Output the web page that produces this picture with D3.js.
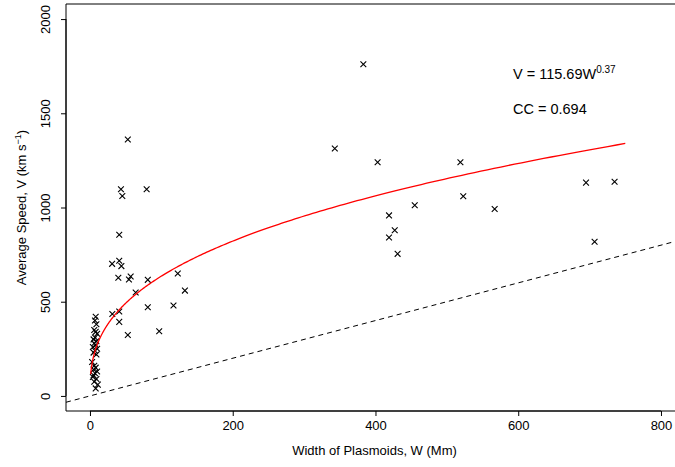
<!DOCTYPE html>
<html>
<head>
<meta charset="utf-8">
<script src="https://cdn.jsdelivr.net/npm/d3@7"></script>
<style>
  html, body { margin: 0; padding: 0; background: #fff; }
  svg text { font-family: "Liberation Sans", Arial, sans-serif; fill: #000; }
</style>
</head>
<body>
<svg id="chart" width="675" height="467"></svg>
<script>
// Plasmoid widths (Mm) and average speeds (km/s)
const widthW = [
  383, 343, 403, 519, 695, 735, 523, 455, 567, 419, 427, 419, 431, 707,
  53, 43.4, 45.3, 79.4, 41, 31, 41, 44, 39.7, 57, 54.6, 81, 123, 64, 133,
  31.3, 41, 81, 117, 41, 97, 53,
  8, 7, 9, 6, 8, 10, 7, 5, 9, 6, 8, 4, 10, 7, 5, 9, 3, 6, 8, 5, 10, 7, 4, 9, 6, 11, 8, 5
];
const speedV = [
  1760, 1313, 1240, 1240, 1132, 1137, 1060, 1012, 992, 958, 879, 841, 754, 818,
  1361, 1097, 1061, 1097, 855, 701, 717, 689, 627, 634, 618, 616, 650, 549, 559,
  435, 448, 471, 480, 393, 343, 323,
  420, 400, 380, 350, 340, 330, 310, 300, 290, 280, 270, 260, 250, 240, 230, 220, 180, 160, 150, 140, 130, 120, 100, 90, 75, 60, 40, 110
];

// Power-law fit V = a * W^b
const fitA = 115.69;
const fitB = 0.37;
const fitRange = [1, 750];
const fitCC = 0.694;

const xTicks = [0, 200, 400, 600, 800];
const yTicks = [0, 500, 1000, 1500, 2000];
const xLimits = [0, 840];
const yLimits = [0, 2000];

const svg = d3.select("#chart");
const plot = { left: 66, top: 4, bottom: 411, right: 713.5 };

// R-style 4% padding around the limits
const pad = (lim) => {
  const d = (lim[1] - lim[0]) * 0.04;
  return [lim[0] - d, lim[1] + d];
};
const x = d3.scaleLinear().domain(pad(xLimits)).range([plot.left, plot.right]);
const y = d3.scaleLinear().domain(pad(yLimits)).range([plot.bottom, plot.top]);

svg.append("defs").append("clipPath").attr("id", "plotclip")
  .append("rect")
  .attr("x", plot.left).attr("y", plot.top)
  .attr("width", plot.right - plot.left).attr("height", plot.bottom - plot.top);

const g = svg.append("g").attr("clip-path", "url(#plotclip)");

// reference line V = W
g.append("line")
  .attr("x1", x(x.domain()[0])).attr("y1", y(x.domain()[0]))
  .attr("x2", x(x.domain()[1])).attr("y2", y(x.domain()[1]))
  .attr("stroke", "#000").attr("stroke-width", 1)
  .attr("stroke-dasharray", "5,4");

// data points as crosses
const cs = 2.9;
g.append("g").selectAll("path")
  .data(d3.range(widthW.length))
  .join("path")
  .attr("d", i => {
    const cx = x(widthW[i]), cy = y(speedV[i]);
    return `M${cx - cs},${cy - cs}L${cx + cs},${cy + cs}M${cx - cs},${cy + cs}L${cx + cs},${cy - cs}`;
  })
  .attr("stroke", "#000").attr("stroke-width", 1.1).attr("fill", "none");

// fitted curve
const fitW = d3.range(0, 401).map(k => fitRange[0] * Math.pow(fitRange[1] / fitRange[0], k / 400));
g.append("path")
  .datum(fitW)
  .attr("d", d3.line().x(w => x(w)).y(w => y(fitA * Math.pow(w, fitB))))
  .attr("fill", "none").attr("stroke", "#ff0000").attr("stroke-width", 1.3);

// frame
svg.append("path")
  .attr("d", `M${plot.right},${plot.top}H${plot.left}V${plot.bottom}H${plot.right}`)
  .attr("fill", "none").attr("stroke", "#000").attr("stroke-width", 1);

// axes
const xAxis = d3.axisBottom(x).tickValues(xTicks).tickFormat(d3.format("d"))
  .tickSize(5).tickPadding(5).tickSizeOuter(0);
const xg = svg.append("g").attr("transform", `translate(0,${plot.bottom})`).call(xAxis);
xg.select(".domain").attr("d", `M${x(xTicks[0])},0H${x(xTicks[xTicks.length - 1])}`);
xg.selectAll("text").attr("font-size", 13).attr("font-family", "Liberation Sans, Arial, sans-serif").attr("fill", "#000");

const yAxis = d3.axisLeft(y).tickValues(yTicks).tickFormat(d3.format("d"))
  .tickSize(5).tickSizeOuter(0);
const yg = svg.append("g").attr("transform", `translate(${plot.left},0)`).call(yAxis);
yg.select(".domain").attr("d", `M0,${y(yTicks[0])}V${y(yTicks[yTicks.length - 1])}`);
yg.selectAll(".tick text")
  .attr("font-size", 13).attr("font-family", "Liberation Sans, Arial, sans-serif").attr("fill", "#000")
  .attr("x", null).attr("dy", null)
  .attr("text-anchor", "middle")
  .attr("transform", "translate(-16.5,0) rotate(-90)")
  .attr("y", 0);

// axis titles
svg.append("text")
  .attr("x", x(400) - 1).attr("y", 455)
  .attr("text-anchor", "middle").attr("font-size", 13)
  .text("Width of Plasmoids, W (Mm)");

const yl = svg.append("text")
  .attr("transform", `translate(26,${y(1000)}) rotate(-90)`)
  .attr("text-anchor", "middle").attr("font-size", 13);
yl.append("tspan").text("Average Speed, V (km s");
yl.append("tspan").attr("dy", -5).attr("font-size", 9).text("−1");
yl.append("tspan").attr("dy", 5).text(")");

// fit annotation
const eq = svg.append("text").attr("x", 513).attr("y", 79).attr("font-size", 14.5);
eq.append("tspan").text(`V = ${fitA}W`);
eq.append("tspan").attr("dy", -6).attr("font-size", 10).text(fitB.toFixed(2));
svg.append("text").attr("x", 513).attr("y", 114).attr("font-size", 14.5)
  .text(`CC = ${fitCC}`);
</script>
</body>
</html>
